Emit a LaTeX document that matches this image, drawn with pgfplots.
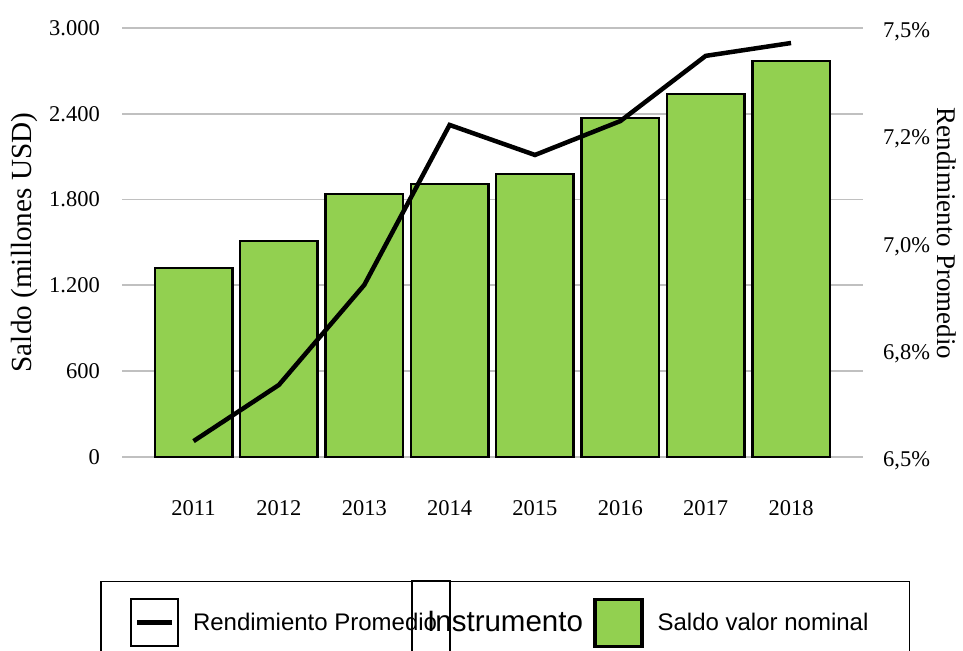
\documentclass[border=0pt]{standalone}
\usepackage{pgfplots}
\pgfplotsset{compat=1.18}
\usepackage{fontspec}
\setmainfont{Liberation Serif}
\newfontfamily\arialf{Liberation Sans}
\definecolor{barg}{HTML}{92D050}
\definecolor{gridg}{HTML}{C0C0C0}
\newcommand\tickf{\fontsize{22.5bp}{26bp}\selectfont}
\newcommand\titlef{\fontsize{29.2bp}{34bp}\selectfont}
\newcommand\titlerf{\fontsize{27bp}{32bp}\selectfont}
\newcommand\legf{\arialf\fontsize{24bp}{28bp}\selectfont}
\newcommand\instf{\arialf\fontsize{29.5bp}{34bp}\selectfont}
\begin{document}
\begin{tikzpicture}[x=1bp,y=1bp]
\useasboundingbox (0,0) rectangle (963,651);
\clip (0,0) rectangle (963,651);
\begin{axis}[
  at={(122bp,194bp)}, anchor=south west,
  scale only axis, width=741bp, height=429bp,
  xmin=-0.838, xmax=7.843, ymin=0, ymax=3000,
  axis line style={draw=none},
  major tick length=0pt,
  ytick={0,600,1200,1800,2400,3000},
  yticklabels={0,600,1.200,1.800,2.400,3.000},
  xtick={0,1,2,3,4,5,6,7},
  xticklabels={2011,2012,2013,2014,2015,2016,2017,2018},
  ymajorgrids, grid style={draw=gridg, line width=1.8bp},
  tick label style={font=\tickf},
  yticklabel style={anchor=east, inner sep=0pt, xshift=-22bp},
  xticklabel style={anchor=center, inner sep=0pt, yshift=-51bp},
  ylabel={Saldo (millones USD)},
  every axis y label/.style={at={(axis description cs:0,0.5)}, rotate=90, anchor=center, yshift=98bp, font=\titlef},
  clip=false,
]
\addplot[ybar, bar width=0.908, fill=barg, draw=black, line width=2.5bp]
  coordinates {(0,1321) (1,1510) (2,1839) (3,1909) (4,1979) (5,2371) (6,2538) (7,2769)};
\end{axis}
\begin{axis}[
  at={(122bp,194bp)}, anchor=south west,
  scale only axis, width=741bp, height=429bp,
  xmin=-0.838, xmax=7.843, ymin=6.5, ymax=7.5,
  axis x line=none,
  axis y line*=right,
  axis line style={draw=none},
  major tick length=0pt,
  ytick={6.5,6.75,7,7.25,7.5},
  yticklabels={{6,5\%},{6,8\%},{7,0\%},{7,2\%},{7,5\%}},
  tick label style={font=\tickf},
  yticklabel style={anchor=west, inner sep=0pt, xshift=20bp, yshift=-4bp},
  ylabel={Rendimiento Promedio},
  every axis y label/.style={at={(axis description cs:1,0.5)}, rotate=-90, anchor=center, yshift=84bp, xshift=-9bp, font=\titlerf},
  clip=false,
  legend columns=2,
  legend style={at={(axis description cs:-0.0297,-0.289)}, anchor=north west,
    draw=black, line width=1.5bp, fill=white, font=\legf,
    inner xsep=0bp, inner ysep=16bp, nodes={inner sep=0pt},
    /tikz/every odd column/.append style={column sep=14bp},
    /tikz/every even column/.append style={column sep=156bp}},
  legend cell align=left,
]
\addplot[black, line width=4.5bp, line join=miter,
  legend image code/.code={
    \path (-28bp,0);
    \draw[black, line width=2bp, fill=white] (0bp,-23.5bp) rectangle (47bp,23.5bp);
    \draw[black, line width=5bp] (6bp,0) -- (41bp,0);
  }]
  coordinates {(0,6.537) (1,6.668) (2,6.901) (3,7.274) (4,7.204) (5,7.283) (6,7.435) (7,7.465)};
\addlegendentry{Rendimiento Promedio}
\addlegendimage{legend image code/.code={
    \draw[fill=barg, draw=black, line width=3.5bp] (0bp,-23.5bp) rectangle (47bp,23.5bp);
  }}
\addlegendentry{Saldo valor nominal\hspace*{41bp}}
\end{axis}
\draw[black, line width=2bp] (412,70) rectangle (450,-30);
\node[anchor=west, inner sep=0pt, font=\instf] at (427,30) {Instrumento};
\end{tikzpicture}
\end{document}
